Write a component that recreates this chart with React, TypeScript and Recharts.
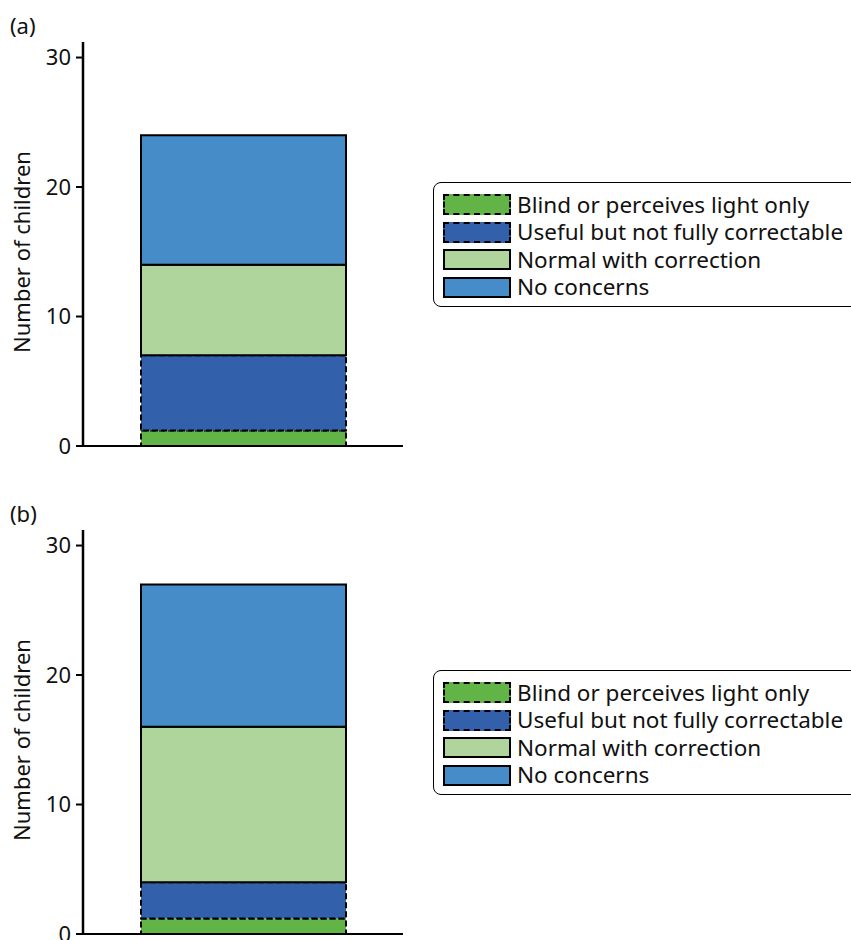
import React from 'react';
import { BarChart, Bar, XAxis, YAxis } from 'recharts';

const seriesKeys = ['blind', 'useful', 'normal', 'noConcerns'];
const seriesNames = [
  'Blind or perceives light only',
  'Useful but not fully correctable',
  'Normal with correction',
  'No concerns',
];
const seriesColors = ['#63b446', '#3260ab', '#afd49c', '#458cc9'];
const seriesDashed = [true, true, false, false];

const panelLabels = ['(a)', '(b)'];
const blindValues = [1.2, 1.2];
const usefulValues = [5.8, 2.8];
const normalValues = [7, 12];
const noConcernValues = [10, 11];
const yTicks = [0, 10, 20, 30];

const FONT = '"Noto Sans", "Open Sans", sans-serif';

const LegendBox = () => (
  <div
    style={{
      position: 'absolute',
      left: 433,
      top: 182,
      border: '1.5px solid #000',
      borderRadius: 8,
      padding: '8px 0 8px 9px',
      width: 430,
      height: 125,
      boxSizing: 'border-box',
      background: '#fff',
      fontFamily: FONT,
      fontSize: 22.5,
      lineHeight: '26px',
      color: '#111',
    }}
  >
    {seriesNames.map((n, i) => (
      <div key={n} style={{ display: 'flex', alignItems: 'center', height: 27.5 }}>
        <div
          style={{
            width: 64,
            height: 17,
            background: seriesColors[i],
            border: `2px ${seriesDashed[i] ? 'dashed' : 'solid'} #000`,
            marginRight: 6,
            flexShrink: 0,
          }}
        />
        <span style={{ whiteSpace: 'nowrap', lineHeight: '26px' }}>{n}</span>
      </div>
    ))}
  </div>
);

const Panel = ({ idx }: { idx: number }) => {
  const data = [
    {
      name: panelLabels[idx],
      blind: blindValues[idx],
      useful: usefulValues[idx],
      normal: normalValues[idx],
      noConcerns: noConcernValues[idx],
    },
  ];
  return (
    <div style={{ position: 'relative', width: 851, height: 488 }}>
      <div
        style={{
          position: 'absolute',
          left: 10,
          top: 13,
          fontFamily: FONT,
          fontSize: 22,
          color: '#111',
          lineHeight: '24px',
        }}
      >
        {panelLabels[idx]}
      </div>
      <BarChart
        width={851}
        height={488}
        data={data}
        margin={{ top: 42, right: 448, bottom: 41, left: 0 }}
        barSize={205}
      >
        <XAxis
          dataKey="name"
          tick={false}
          tickLine={false}
          height={1}
          axisLine={{ stroke: '#000', strokeWidth: 2 }}
        />
        <YAxis
          width={83}
          domain={[0, 31.2]}
          ticks={yTicks}
          allowDataOverflow
          tickSize={7}
          tickMargin={5}
          axisLine={{ stroke: '#000', strokeWidth: 2.5 }}
          tickLine={{ stroke: '#000', strokeWidth: 2 }}
          tick={{ fill: '#111', fontSize: 22, fontFamily: FONT }}
          label={{
            value: 'Number of children',
            angle: -90,
            position: 'insideLeft',
            dx: 17,
            dy: 8,
            style: { textAnchor: 'middle', fill: '#111', fontSize: 22, fontFamily: FONT },
          }}
        />
        {seriesKeys.map((k, i) => (
          <Bar
            key={k}
            dataKey={k}
            name={seriesNames[i]}
            stackId="s"
            fill={seriesColors[i]}
            stroke="#000"
            strokeWidth={2}
            strokeDasharray={seriesDashed[i] ? '6 3' : undefined}
            isAnimationActive={false}
          />
        ))}
      </BarChart>
      <LegendBox />
    </div>
  );
};

export default function App() {
  return (
    <div style={{ position: 'absolute', left: 0, top: 0, width: 851, height: 940, overflow: 'hidden', background: '#fff' }}>
      <Panel idx={0} />
      <Panel idx={1} />
    </div>
  );
}
